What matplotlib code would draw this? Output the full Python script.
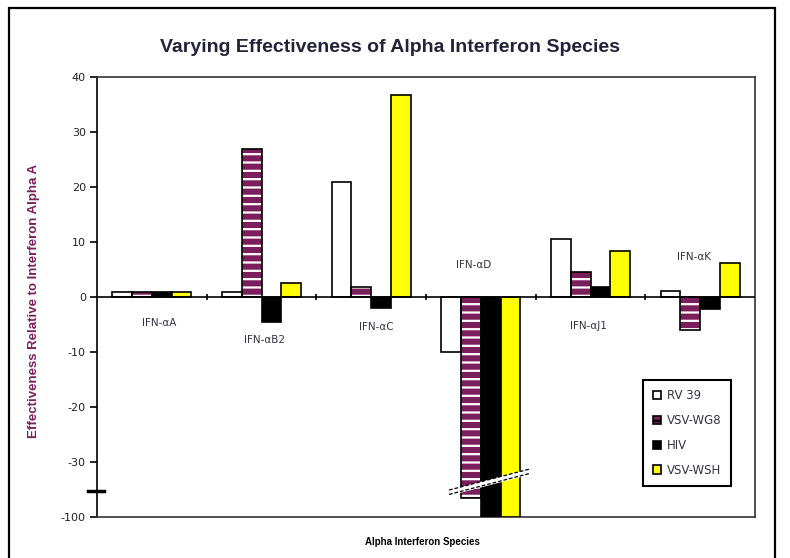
import numpy as np
import matplotlib

matplotlib.use("Agg")
import matplotlib.pyplot as plt
from matplotlib.patches import Patch, Rectangle
from matplotlib.transforms import blended_transform_factory

plt.rcParams["font.family"] = ["Liberation Sans", "DejaVu Sans"]
plt.rcParams["hatch.linewidth"] = 1.6

# values are in axis units: the axis is broken below -30, so -40 stands for -100
species = ["IFN-αA", "IFN-αB2", "IFN-αC", "IFN-αD", "IFN-αJ1", "IFN-αK"]
label_y = [-4.7, -7.8, -5.5, 5.8, -5.3, 7.3]
label_dx = [0.07, 0.03, 0.05, -0.07, -0.02, -0.06]
series = ["RV 39", "VSV-WG8", "HIV", "VSV-WSH"]
rv39 = [1.0, 1.0, 21.0, -10.0, 10.5, 1.1]
vsv_wg8 = [1.0, 27.0, 1.8, -36.5, 4.6, -6.0]
hiv = [1.0, -4.5, -2.0, -40.0, 1.9, -2.2]
vsv_wsh = [1.0, 2.5, 36.7, -40.0, 8.3, 6.1]
ytick_vals = [40, 30, 20, 10, 0, -10, -20, -30, -40]
ytick_text = ["40", "30", "20", "10", "0", "-10", "-20", "-30", "-100"]

MAGENTA = "#7a1f5c"
colors = ["white", MAGENTA, "black", "#ffff00"]

fig = plt.figure(figsize=(7.9, 5.58), dpi=100)
ax = fig.add_axes([97 / 790, 1 - 517 / 558, 658 / 790, 440 / 558])

x = np.arange(len(species))
w = 0.18
for i, (vals, c) in enumerate(zip([rv39, vsv_wg8, hiv, vsv_wsh], colors)):
    pos = x + (i - 1.5) * w
    if c == MAGENTA:
        ax.bar(pos, vals, w, color=c, hatch="--", edgecolor="white", linewidth=0, zorder=2)
        ax.bar(pos, vals, w, fill=False, edgecolor="black", linewidth=1.2, zorder=3)
    else:
        ax.bar(pos, vals, w, color=c, edgecolor="black", linewidth=1.2, zorder=3)

ax.axhline(0, color="black", lw=1.2, zorder=4)
bounds = np.arange(len(species) - 1) + 0.5
ax.vlines(bounds, -0.6, 0.6, color="black", lw=1.2, zorder=4)

for xi, name, ly, dx in zip(x, species, label_y, label_dx):
    ax.text(xi + dx, ly, name, ha="center", va="center", fontsize=7.5,
            family="DejaVu Sans", color="#333344")

# break across the IFN-αD bars
bx = np.array([2.71, 3.44])
by = np.array([-35.9, -32.1])
ax.fill_between(bx, by, by + 0.8, color="white", zorder=5)
for off in (0, 0.8):
    ax.plot(bx, by + off, color="black", lw=0.9, ls=(0, (3, 1.5)), zorder=6)

# break mark on the value axis
tr = blended_transform_factory(ax.transAxes, ax.transData)
ax.plot([-0.014, 0.011], [-35.2, -35.2], color="black", lw=2.5, transform=tr,
        clip_on=False, zorder=6)

ax.set_xlim(-0.5, len(species) - 0.5)
ax.set_ylim(-40, 40)
ax.set_xticks([])
ax.set_yticks(ytick_vals)
ax.set_yticklabels(ytick_text, fontsize=8, family="DejaVu Sans", color="#222222")
ax.tick_params(axis="y", direction="out", length=5, width=1.2, pad=3)
for s in ax.spines.values():
    s.set_linewidth(1.2)
    s.set_color("#333333")
ax.spines["left"].set_color("black")

ax.set_ylabel("Effectiveness Relative to Interferon Alpha A", fontsize=9.5,
              fontweight="bold", color=MAGENTA)
ax.yaxis.set_label_coords(-0.086, 0.49)
ax.set_xlabel("Alpha Interferon Species", fontsize=7, fontweight="bold")
ax.xaxis.set_label_coords(0.494, -0.045)
fig.text(390 / 790, 1 - 47 / 558, "Varying Effectiveness of Alpha Interferon Species",
         ha="center", va="center", fontsize=14, fontweight="bold", color="#22223a")

handles = [Patch(facecolor=c, edgecolor="black", linewidth=1.2,
                 hatch="--" if c == MAGENTA else None) for c in colors]
leg = ax.legend(handles, series, loc="lower left", bbox_to_anchor=(0.830, 0.07),
                prop={"family": "DejaVu Sans", "size": 8.5}, handlelength=0.7,
                handleheight=0.7, handletextpad=0.5, labelspacing=1.0, borderpad=0.8,
                fancybox=False, framealpha=1, borderaxespad=0)
leg.get_frame().set_edgecolor("black")
leg.get_frame().set_linewidth(1.5)
for t in leg.get_texts():
    t.set_color("#333344")

fig.patches.append(Rectangle((9 / 790, -0.05), 766 / 790, 1.05 - 8 / 558,
                             transform=fig.transFigure, fill=False,
                             edgecolor="black", linewidth=1.6))

fig.savefig("out.png", dpi=100)
